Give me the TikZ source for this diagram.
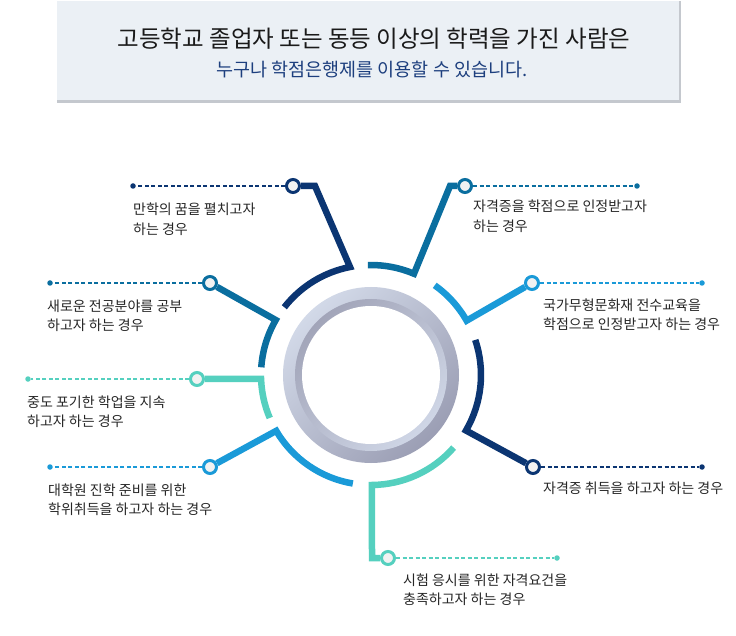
\documentclass[tikz,border=0pt]{standalone}
\usepackage{fontspec}
\setmainfont{Noto Sans CJK KR}
\usetikzlibrary{backgrounds}
\definecolor{cnavy}{HTML}{0B3572}
\definecolor{cteal}{HTML}{0A6E9F}
\definecolor{cblue}{HTML}{1A9AD8}
\definecolor{cmint}{HTML}{55D0BF}
\definecolor{boxfill}{HTML}{EBF0F5}
\definecolor{boxshadow}{HTML}{C4C8CE}
\definecolor{titlecol}{HTML}{1A1A1A}
\definecolor{subcol}{HTML}{1D3F7E}
\definecolor{textcol}{HTML}{262626}
\definecolor{hubfill}{HTML}{F2F2F2}
\definecolor{ringA}{HTML}{D2D9E8}
\definecolor{ringB}{HTML}{9B9EB4}
\definecolor{bevA}{HTML}{A2A5B9}
\definecolor{bevB}{HTML}{CFD6E6}
\newcommand{\lblfont}{\fontsize{14}{19.5}\selectfont}
\newcommand{\lbltext}[1]{\begin{tabular}[t]{@{}l@{}}#1\end{tabular}}
\begin{document}
\begin{tikzpicture}[x=1pt,y=1pt,
  hub/.style={circle, draw, line width=3pt, fill=hubfill, minimum size=13pt, inner sep=0pt},
  tipdot/.style={circle, fill, minimum size=5.5pt, inner sep=0pt},
  lead/.style={line width=1.4pt, dash pattern=on 4pt off 2.5pt},
  limb/.style={line width=6.5pt, line join=miter},
  lbl/.style={anchor=base west, inner sep=0pt, font=\lblfont, text=textcol}]
\useasboundingbox (0,0) rectangle (736,-636);
\coordinate (C) at (371,-375);

% hubs
\node[hub, draw=cnavy] (h1) at (293,-186) {};
\node[hub, draw=cteal] (h2) at (210,-283) {};
\node[hub, draw=cmint] (h3) at (197,-379) {};
\node[hub, draw=cblue] (h4) at (210,-467) {};
\node[hub, draw=cmint] (h5) at (388,-558) {};
\node[hub, draw=cnavy] (h6) at (533,-467) {};
\node[hub, draw=cblue] (h7) at (532,-283) {};
\node[hub, draw=cteal] (h8) at (465,-186) {};
% end dots
\node[tipdot, fill=cnavy] (d1) at (133,-186) {};
\node[tipdot, fill=cteal] (d2) at (50,-283) {};
\node[tipdot, fill=cmint] (d3) at (28,-379) {};
\node[tipdot, fill=cblue] (d4) at (50,-467) {};
\node[tipdot, fill=cmint] (d5) at (557,-558) {};
\node[tipdot, fill=cnavy] (d6) at (702,-467) {};
\node[tipdot, fill=cblue] (d7) at (702,-283) {};
\node[tipdot, fill=cteal] (d8) at (637,-186) {};
% bends
\coordinate (k1) at (315,-186);
\coordinate (k5) at (372,-558);
\coordinate (k8) at (450,-186);
\path (C) ++(101:110) coordinate (a1);
\path (C) ++(150:110) coordinate (a2);
\path (C) ++(182:110) coordinate (a3);
\path (C) ++(210.5:110) coordinate (a4);
\path (C) ++(270.5:110) coordinate (a5);
\path (C) ++(-30.3:110) coordinate (a6);
\path (C) ++(29.6:110) coordinate (a7);
\path (C) ++(67:110) coordinate (a8);

\begin{scope}[on background layer]
  \fill[white] (0,0) rectangle (736,-636);
  % header
  \fill[boxshadow] (57,-1) rectangle (681,-103);
  \fill[boxfill] (57,-1) rectangle (679,-100);
  % ring
  \shade[top color=ringA, bottom color=ringB, shading angle=45] (C) circle[radius=88];
  \shade[top color=bevA, bottom color=bevB, shading angle=45] (C) circle[radius=76];
  \fill[white] (C) circle[radius=69];
  % limbs
  \draw[limb, cnavy] (h1) -- (k1) -- (a1) arc[start angle=101, end angle=142, radius=110];
  \draw[limb, cteal] (h2) -- (a2) arc[start angle=150, end angle=176, radius=110];
  \draw[limb, cmint] (h3) -- (a3) arc[start angle=182, end angle=203, radius=110];
  \draw[limb, cblue] (h4) -- (a4) arc[start angle=210.5, end angle=260.5, radius=110];
  \draw[limb, cmint] (h5) -- (k5) -- (a5) arc[start angle=270.5, end angle=318.7, radius=110];
  \draw[limb, cnavy] (h6) -- (a6) arc[start angle=-30.3, end angle=18.6, radius=110];
  \draw[limb, cblue] (h7) -- (a7) arc[start angle=29.6, end angle=54.6, radius=110];
  \draw[limb, cteal] (h8) -- (k8) -- (a8) arc[start angle=67, end angle=91.6, radius=110];
  % leader lines
  \draw[lead, cnavy] (h1) -- (d1);
  \draw[lead, cteal] (h2) -- (d2);
  \draw[lead, cmint] (h3) -- (d3);
  \draw[lead, cblue] (h4) -- (d4);
  \draw[lead, cmint] (h5) -- (d5);
  \draw[lead, cnavy] (h6) -- (d6);
  \draw[lead, cblue] (h7) -- (d7);
  \draw[lead, cteal] (h8) -- (d8);
\end{scope}

% header text
\node[anchor=base, inner sep=0pt, font=\fontsize{23.5}{28}\selectfont, text=titlecol] (title) at (374,-48) {고등학교 졸업자 또는 동등 이상의 학력을 가진 사람은};
\node[anchor=base, inner sep=0pt, font=\fontsize{18.5}{22}\selectfont, text=subcol] (subtitle) at (372,-77) {누구나 학점은행제를 이용할 수 있습니다.};

% labels
\node[lbl] (t1) at (133,-215) {\lbltext{만학의 꿈을 펼치고자\\하는 경우}};
\node[lbl] (t2) at (47,-311) {\lbltext{새로운 전공분야를 공부\\하고자 하는 경우}};
\node[lbl] (t3) at (27,-407) {\lbltext{중도 포기한 학업을 지속\\하고자 하는 경우}};
\node[lbl] (t4) at (48,-495) {\lbltext{대학원 진학 준비를 위한\\학위취득을 하고자 하는 경우}};
\node[lbl] (t5) at (403,-585) {\lbltext{시험 응시를 위한 자격요건을\\충족하고자 하는 경우}};
\node[lbl] (t6) at (543,-493) {\lbltext{자격증 취득을 하고자 하는 경우}};
\node[lbl] (t7) at (543,-310) {\lbltext{국가무형문화재 전수교육을\\학점으로 인정받고자 하는 경우}};
\node[lbl] (t8) at (473,-212) {\lbltext{자격증을 학점으로 인정받고자\\하는 경우}};
\end{tikzpicture}
\end{document}
